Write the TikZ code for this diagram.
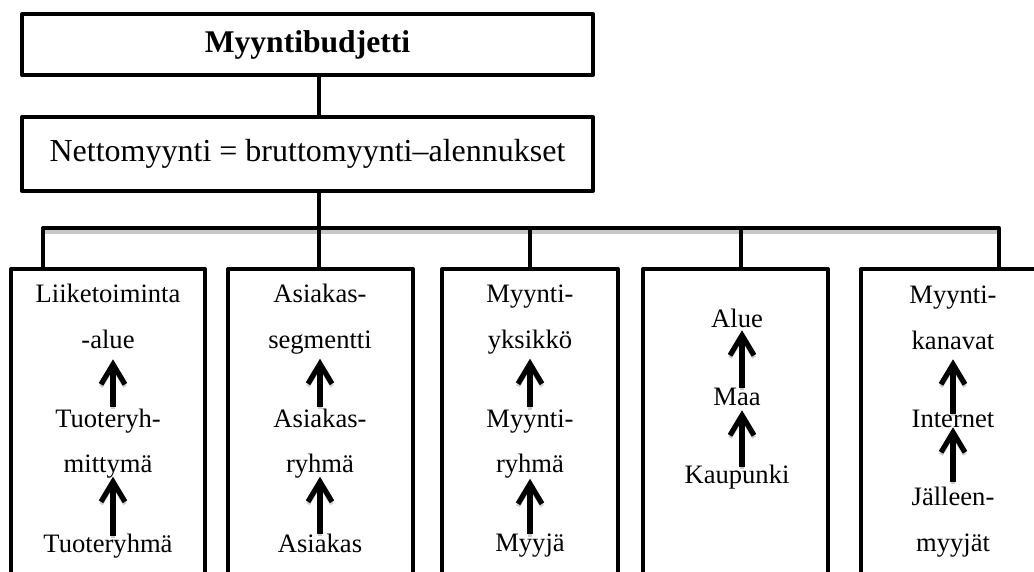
\documentclass[tikz,border=0pt]{standalone}
\usepackage{fontspec}
\setmainfont{Liberation Serif}
\usetikzlibrary{arrows.meta, positioning}

\begin{document}
\begin{tikzpicture}[
  x=0.5pt, y=-0.5pt,
  line width=2pt,
  line join=round,
  box/.style={rectangle, draw, line width=2pt, inner sep=0pt, align=center},
  col/.style={box, anchor=north, minimum height=180pt},
  item/.style={inner sep=0pt, align=center, anchor=base, font=\fontsize{13.3}{23}\selectfont},
  up/.style 2 args={-{Straight Barb[length=10pt, width=12pt]}, line width=2.6pt,
    shorten <=#1, shorten >=#2,
    preaction={draw=black!20, transform canvas={yshift=-1.2pt}}},
  shade/.style={draw=black!22, line width=2pt}
]
\clip (0,0) rectangle (1034,572);

% Top level
\node[box, minimum width=285.5pt, minimum height=30.5pt, font=\fontsize{15.8}{18}\selectfont\bfseries] (budget) at (307.5,44.5) {Myyntibudjetti};
\node[box, minimum width=285.5pt, minimum height=37pt, font=\fontsize{16}{18}\selectfont] (net) at (307.5,154) {Nettomyynti = bruttomyynti–alennukset};

% Columns
\node[col, minimum width=97pt] (col1) at (108,267) {};
\node[col, minimum width=92.5pt] (col2) at (320.5,267) {};
\node[col, minimum width=88pt] (col3) at (530,267) {};
\node[col, minimum width=92.5pt] (col4) at (735.5,267) {};
\node[col, minimum width=92pt] (col5) at (953,267) {};

% Bus
\coordinate (t1) at (43,228);
\coordinate (t2) at (319,228);
\coordinate (t3) at (530,228);
\coordinate (t4) at (741,228);
\coordinate (t5) at (999,228);

\draw (budget.south -| t2) -- (net.north -| t2);
\draw (net.south -| t2) -- (t2);
\draw[shade] ([yshift=-2pt]t1) -- ([yshift=-2pt]t5);
\draw (t1 |- col1.north) -- (t1) -- (t5) -- (t5 |- col5.north);
\foreach \i in {2,3,4}
  \draw (t\i) -- (t\i |- col\i.north);

% Column texts
\node[item] (c1a) at (108,349) {Liiketoiminta\\-alue};
\node[item] (c1b) at (108,473) {Tuoteryh-\\mittymä};
\node[item] (c1c) at (108,552) {Tuoteryhmä};

\node[item] (c2a) at (320,349) {Asiakas-\\segmentti};
\node[item] (c2b) at (320,473) {Asiakas-\\ryhmä};
\node[item] (c2c) at (320,552) {Asiakas};

\node[item] (c3a) at (530,349) {Myynti-\\yksikkö};
\node[item] (c3b) at (530,473) {Myynti-\\ryhmä};
\node[item] (c3c) at (530,551) {Myyjä};

\node[item] (c4a) at (737,328) {Alue};
\node[item] (c4b) at (737,406) {Maa};
\node[item] (c4c) at (737,483) {Kaupunki};

\node[item] (c5a) at (953,350) {Myynti-\\kanavat};
\node[item] (c5b) at (953,427) {Internet};
\node[item] (c5c) at (953,551) {Jälleen-\\myyjät};

% Arrows
\draw[up={0pt}{4pt}] ([xshift=2.5pt]c1b.north) -- ([xshift=2.5pt]c1a.south);
\draw[up={-2pt}{-2pt}] ([xshift=2.5pt]c1c.north) -- ([xshift=2.5pt]c1b.south);
\draw[up={0pt}{1pt}] (c2b.north) -- (c2a.south);
\draw[up={-1pt}{-2pt}] (c2c.north) -- (c2b.south);
\draw[up={0pt}{1pt}] (c3b.north) -- (c3a.south);
\draw[up={-1.5pt}{-1pt}] (c3c.north) -- (c3b.south);
\draw[up={-0.5pt}{0pt}] ([xshift=2.5pt]c4b.north) -- ([xshift=2.5pt]c4a.south);
\draw[up={-2pt}{1pt}] ([xshift=2.5pt]c4c.north) -- ([xshift=2.5pt]c4b.south);
\draw[up={-3pt}{3.5pt}] (c5b.north) -- (c5a.south);
\draw[up={1.5pt}{-1pt}] (c5c.north) -- (c5b.south);

\end{tikzpicture}
\end{document}
